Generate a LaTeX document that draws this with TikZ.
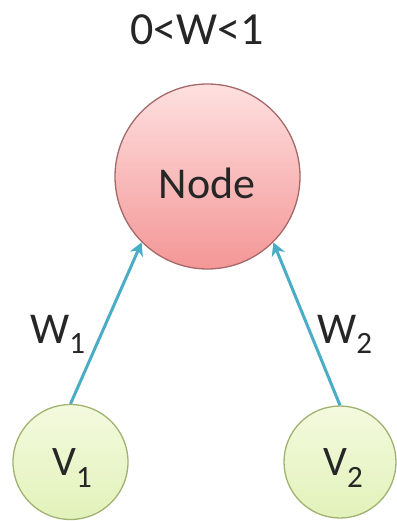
\documentclass[tikz,border=0pt]{standalone}
\usepackage{fontspec}
\setmainfont{Carlito}
\usetikzlibrary{arrows.meta}
\definecolor{redtop}{RGB}{254,224,224}
\definecolor{redbot}{RGB}{244,150,150}
\definecolor{redline}{RGB}{165,105,105}
\definecolor{grntop}{RGB}{243,250,222}
\definecolor{grnbot}{RGB}{226,242,186}
\definecolor{grnline}{RGB}{160,178,112}
\definecolor{arrowcol}{RGB}{75,172,198}
\begin{document}
\begin{tikzpicture}[x=1pt,y=-1pt,
  bignode/.style={circle, draw=redline, line width=1.3pt, inner sep=0pt,
    minimum size=185pt, top color=redtop, bottom color=redbot},
  smallnode/.style={circle, draw=grnline, line width=1.3pt, inner sep=0pt,
    top color=grntop, bottom color=grnbot},
  txt/.style={inner sep=0pt, anchor=base west, text=black!85},
  conn/.style={draw=arrowcol, line width=3pt, -{Stealth[length=13pt,width=14pt,inset=4pt]}}
]
\useasboundingbox (0,0) rectangle (396,521);
\node[bignode] (nd) at (207.5,176.5) {};
\node[smallnode, minimum size=115pt] (v1) at (70.5,462) {};
\node[smallnode, minimum size=112pt] (v2) at (340,462) {};
\node[txt, anchor=base] (ndtext) at (207,199) {\fontsize{44}{44}\selectfont Node};
\node[txt, anchor=base] (title) at (197,45) {\fontsize{46}{46}\selectfont 0<W<1};
\node[txt] (w1) at (30,343) {\fontsize{44}{44}\selectfont W\raisebox{-10pt}{\fontsize{31}{31}\selectfont 1}};
\node[txt] (w2) at (317,343) {\fontsize{44}{44}\selectfont W\raisebox{-10pt}{\fontsize{31}{31}\selectfont 2}};
\node[txt] (v1text) at (52,475) {\fontsize{42}{42}\selectfont V\raisebox{-12pt}{\fontsize{31}{31}\selectfont 1}};
\node[txt] (v2text) at (323,475) {\fontsize{42}{42}\selectfont V\raisebox{-12pt}{\fontsize{31}{31}\selectfont 2}};
\draw[conn] (v1.north) -- (nd.225);
\draw[conn] (v2.north) -- (nd.315);
\end{tikzpicture}
\end{document}
